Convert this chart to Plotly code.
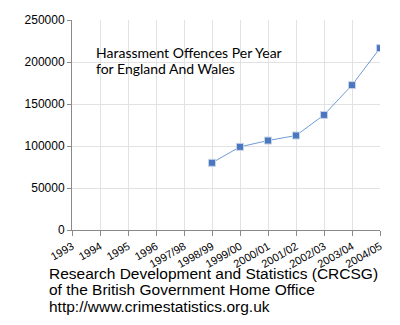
import plotly.graph_objects as go

years = ["1993", "1994", "1995", "1996", "1997/98", "1998/99", "1999/00",
         "2000/01", "2001/02", "2002/03", "2003/04", "2004/05"]
offences = [None, None, None, None, None, 80000, 99000, 106500, 112500,
            137000, 172500, 216500]
y_ticks = [0, 50000, 100000, 150000, 200000, 250000]
title_lines = ["Harassment Offences Per Year", "for England And Wales"]
source_lines = ["Research Development and Statistics (CRCSG)",
                "of the British Government Home Office",
                "http://www.crimestatistics.org.uk"]

fig = go.Figure()
fig.add_trace(go.Scatter(
    x=years, y=offences, mode="lines+markers",
    line=dict(color="#6f9bd6", width=1),
    marker=dict(symbol="square", size=7, color="#4a78c0",
                line=dict(color="#c8d4e6", width=1)),
    connectgaps=False, showlegend=False, hoverinfo="skip"))

fig.update_layout(
    width=400, height=325,
    margin=dict(l=72, r=20, t=20, b=95),
    paper_bgcolor="white", plot_bgcolor="white",
    font=dict(family="Liberation Sans, Arial", color="black"),
    xaxis=dict(type="category", categoryorder="array", categoryarray=years,
               range=[0, len(years) - 1], showgrid=True, gridcolor="#e2e2e2",
               gridwidth=1, showline=True, linecolor="#8a8a8a", linewidth=1,
               ticks="outside", ticklen=5, tickcolor="#8a8a8a",
               tickangle=-30, tickfont=dict(size=11), zeroline=False),
    yaxis=dict(range=[0, 250000], tickvals=y_ticks,
               ticktext=[str(v) for v in y_ticks], showgrid=True,
               gridcolor="#e2e2e2", gridwidth=1, showline=True,
               linecolor="#8a8a8a", linewidth=1, ticks="outside", ticklen=4,
               tickcolor="#8a8a8a", tickfont=dict(size=12), zeroline=False,
               mirror=False),
)

# white box behind title text, over the gridlines
fig.add_shape(type="rect", xref="paper", yref="paper",
              x0=(85 - 72) / 308, x1=(288 - 72) / 308,
              y0=(230 - 92) / 210, y1=(230 - 31) / 210,
              fillcolor="white", line=dict(width=0), layer="between")

for i, line in enumerate(title_lines):
    fig.add_annotation(xref="paper", yref="paper",
                       x=(94 - 72) / 308, y=(230 - (52 + 17 * i)) / 210,
                       xanchor="left", yanchor="middle", align="left",
                       text=line, showarrow=False,
                       font=dict(size=14, family="Lato, Liberation Sans"))

for i, line in enumerate(source_lines):
    fig.add_annotation(xref="paper", yref="paper",
                       x=(47 - 72) / 308, y=(230 - (273 + 16.5 * i)) / 210,
                       xanchor="left", yanchor="middle", align="left",
                       text=line, showarrow=False,
                       font=dict(size=15.5, family="Liberation Sans, Arial"))

fig.write_html("out.html")
